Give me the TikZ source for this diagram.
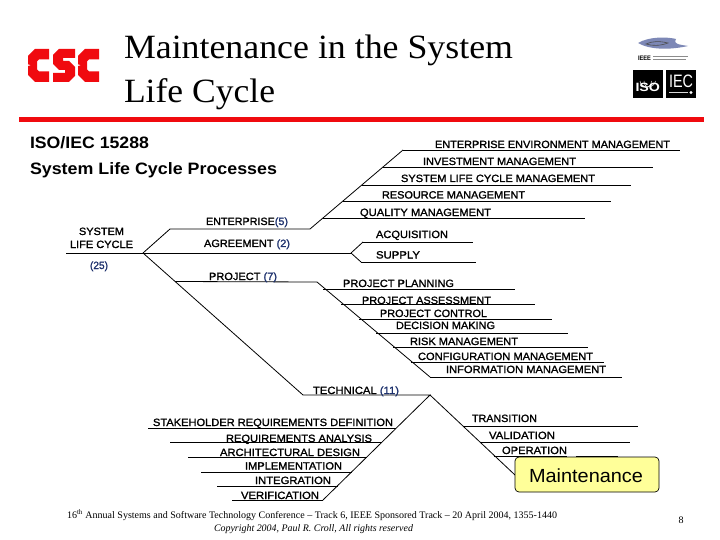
\documentclass[tikz,border=0pt]{standalone}
\usepackage{fontspec}
\usepackage{graphicx}
\setmainfont{Liberation Serif}
\setsansfont{Liberation Sans}
\newfontfamily\lblfont[FakeBold=1.4]{Liberation Sans}
\definecolor{numblue}{RGB}{30,50,110}
\definecolor{cscred}{RGB}{240,10,15}
\definecolor{noteyellow}{RGB}{255,255,153}
\definecolor{swoosh}{RGB}{70,85,150}
\tikzset{
  ln/.style={draw=black,line width=0.8pt},
  lbl/.style={inner sep=0pt,outer sep=0pt,anchor=base west,font=\lblfont\fontsize{10.5}{12}\selectfont,text=black},
  head/.style={lbl,font=\sffamily\bfseries\fontsize{16.5}{20}\selectfont},
  ttl/.style={lbl,font=\rmfamily\fontsize{34}{40}\selectfont},
  foot/.style={lbl,font=\rmfamily\fontsize{10}{12}\selectfont},
  note/.style={lbl,font=\sffamily\fontsize{19}{20}\selectfont},
  isolbl/.style={lbl,text=white,font=\sffamily\bfseries\fontsize{12}{12}\selectfont},
  ieclbl/.style={lbl,text=white,font=\sffamily\fontsize{18}{18}\selectfont},
  ieeelbl/.style={lbl,font=\sffamily\bfseries\fontsize{6.5}{7}\selectfont},
  cscshape/.style={fill=cscred,draw=none}
}
\newcommand{\fitlab}[6][lbl]{%
  \pgfmathsetlengthmacro{\fitw}{(#4-#3)*1pt}%
  \node[#1] (#2) at (#3,#5) {\resizebox{\fitw}{\height}{#6}};}
\newcommand{\num}[1]{\textcolor{numblue}{#1}}
\newcommand{\bone}[4]{%
  \coordinate (#1-a) at (#2,#4);
  \coordinate (#1-b) at (#3,#4);
  \draw[ln] (#1-a) -- (#1-b);}
\begin{document}
\begin{tikzpicture}[x=1pt,y=-1pt]
\useasboundingbox (0,0) rectangle (720,540);
\fill[white] (0,0) rectangle (720,540);

% CSC logo
\path[cscshape] (49,49) -- (35,49) -- (28,56) -- (28,64.3) -- (31,65.2) -- (28,66) -- (28,75) -- (35,82) -- (49,82) -- (49,71.5) -- (39,71.5) -- (37,69.5) -- (37,61.5) -- (39,59.5) -- (49,59.5) -- cycle;
\path[cscshape] (59,49) -- (75,49) -- (75,58) -- (63,58) -- (63,61) -- (69,61) -- (75,67) -- (75,76) -- (69,82) -- (53,82) -- (53,73) -- (65,73) -- (65,70) -- (59,70) -- (53,64) -- (53,55) -- cycle;
\path[cscshape] (99,49) -- (85,49) -- (78,56) -- (78,64.3) -- (81,65.2) -- (78,66) -- (78,75) -- (85,82) -- (99,82) -- (99,71.5) -- (89,71.5) -- (87,69.5) -- (87,61.5) -- (89,59.5) -- (99,59.5) -- cycle;

% Title
\fitlab[ttl]{t1}{124}{513}{58.5}{Maintenance in the System}
\fitlab[ttl]{t2}{124}{275}{102.5}{Life Cycle}

% Right logos
\fill[swoosh!70] (638,43) .. controls (650,36) and (668,37) .. (676,39) .. controls (672,45) and (684,45) .. (688,46) .. controls (670,50) and (650,50) .. (638,43) -- cycle;
\draw[black!70,line width=.6pt] (646,44) .. controls (652,41) and (660,41) .. (668,43) .. controls (660,46) and (652,46) .. (646,44) -- cycle;
\fitlab[ieeelbl]{ieee}{638}{651}{60.5}{IEEE}
\foreach \yy/\xe in {56.5/688,59.5/686}
  \draw[black!45,line width=1.5pt] (653,\yy) -- (\xe,\yy);
\fill[black] (633,70) rectangle (662.5,98);
\fill[black] (666,70) rectangle (696,98);
\fitlab[isolbl]{iso}{635.5}{660}{92}{ISO}
\draw[white,line width=.5pt] (640,81) arc[start angle=180,end angle=0,x radius=7.7,y radius=6];
\draw[white,line width=.5pt] (644,81) arc[start angle=180,end angle=0,x radius=3.7,y radius=6];
\fitlab[ieclbl]{iec}{669}{693}{88}{IEC}
\draw[white!85!black,line width=1.6pt] (669,92.5) -- (688,92.5);
\fill[white] (691,92.5) circle (1.6);

% Red rule
\fill[cscred] (19,117) rectangle (704,122);

% Headings
\fitlab[head]{h1}{30}{149}{149}{ISO/IEC 15288}
\fitlab[head]{h2}{30}{277}{175}{System Life Cycle Processes}

% Main skeleton
\coordinate (mainstart) at (66,253);
\coordinate (root) at (143,253);
\coordinate (agfork) at (351,253);
\coordinate (entstart) at (170,229);
\coordinate (entend) at (310,229);
\coordinate (enttop) at (403,150);
\coordinate (prjstart) at (175,281.5);
\coordinate (prjend) at (317,282);
\coordinate (prjbot) at (430,377);
\coordinate (techstart) at (303,395);
\coordinate (techfork) at (430,395);
\coordinate (techleft) at (323,500);
\coordinate (techright) at (515,475);
\draw[ln] (mainstart) -- (agfork);
\draw[ln] (root) -- (entstart) -- (entend) -- (enttop);
\draw[ln] (root) -- (techstart) -- (techfork) -- (techleft);
\draw[ln] (prjstart) -- (prjend) -- (prjbot);
\draw[ln] (techfork) -- (techright);

% Enterprise bones
\bone{eem}{403}{680}{150}
\bone{inv}{383}{653}{167}
\bone{slc}{362}{631}{185}
\bone{res}{343}{611}{201}
\bone{qua}{323}{585}{218}
% Agreement bones
\bone{acq}{363}{473}{242}
\bone{sup}{361}{476}{262}
\draw[ln] (agfork) -- (acq-a);
\draw[ln] (agfork) -- (sup-a);
% Project bones
\bone{ppl}{323}{515}{289.5}
\bone{pas}{341}{535}{304}
\bone{pco}{359}{552}{319}
\bone{dec}{376}{568}{333}
\bone{rsk}{393}{588}{347}
\bone{cfg}{411}{604}{362}
\bone{inf}{430}{622}{377}
% Technical bones
\bone{stk}{148}{396}{428}
\bone{req}{170}{382}{442}
\bone{arc}{188}{367}{457}
\bone{imp}{201}{352}{472}
\bone{itg}{217}{338}{486}
\bone{ver}{232}{323}{500}
\bone{trn}{464}{638}{426}
\bone{val}{481}{630}{442}
\coordinate (opr-a) at (494,456);
\coordinate (opr-c) at (567,456);
\coordinate (opr-d) at (576,456);
\coordinate (opr-b) at (618,456);
\draw[ln] (opr-a) -- (opr-c);
\draw[ln] (opr-d) -- (opr-b);

% Labels
\fitlab{l1}{435}{670}{148}{ENTERPRISE ENVIRONMENT MANAGEMENT}
\fitlab{l2}{423}{576}{165}{INVESTMENT MANAGEMENT}
\fitlab{l3}{401}{595}{182}{SYSTEM LIFE CYCLE MANAGEMENT}
\fitlab{l4}{382}{525}{198.5}{RESOURCE MANAGEMENT}
\fitlab{l5}{360}{491}{216}{QUALITY MANAGEMENT}
\fitlab{l6}{376}{448}{238}{ACQUISITION}
\fitlab{l7}{376}{420}{258.5}{SUPPLY}
\fitlab{l8}{206}{288}{225}{ENTERPRISE\num{(5)}}
\fitlab{l9}{204}{290}{247}{AGREEMENT \num{(2)}}
\fitlab{l10}{79}{124}{235}{SYSTEM}
\fitlab{l11}{70}{133}{248}{LIFE CYCLE}
\fitlab{l12}{90}{108}{269}{\num{(25)}}
\fitlab{l13}{209}{277}{280}{PROJECT \num{(7)}}
\fitlab{l14}{343}{454}{287}{PROJECT PLANNING}
\fitlab{l15}{362}{491}{304}{PROJECT ASSESSMENT}
\fitlab{l16}{380}{487}{317}{PROJECT CONTROL}
\fitlab{l17}{396}{495}{329}{DECISION MAKING}
\fitlab{l18}{410}{518}{345}{RISK MANAGEMENT}
\fitlab{l19}{418}{593}{360}{CONFIGURATION MANAGEMENT}
\fitlab{l20}{446}{606}{373}{INFORMATION MANAGEMENT}
\fitlab{l21}{313}{399}{394}{TECHNICAL \num{(11)}}
\fitlab{l22}{153}{393}{426}{STAKEHOLDER REQUIREMENTS DEFINITION}
\fitlab{l23}{226}{372}{442}{REQUIREMENTS ANALYSIS}
\fitlab{l24}{220}{360}{456}{ARCHITECTURAL DESIGN}
\fitlab{l25}{245}{342}{469.5}{IMPLEMENTATION}
\fitlab{l26}{255}{331}{484}{INTEGRATION}
\fitlab{l27}{241}{319}{499}{VERIFICATION}
\fitlab{l28}{472}{537}{422}{TRANSITION}
\fitlab{l29}{489}{555}{439}{VALIDATION}
\fitlab{l30}{502}{567}{454}{OPERATION}

% Callout
\node[draw=black,line width=.7pt,fill=noteyellow,rounded corners=4pt,minimum width=144pt,minimum height=35pt,inner sep=0pt] (maint) at (587,474.5) {};
\fitlab[note]{mt}{529}{643}{482}{Maintenance}

% Footer
\fitlab[foot]{f1}{67}{557}{518}{16\textsuperscript{th} Annual Systems and Software Technology Conference -- Track 6, IEEE Sponsored Track -- 20 April 2004, 1355-1440}
\fitlab[foot]{f2}{214}{413}{531}{\itshape Copyright 2004, Paul R. Croll, All rights reserved}
\node[foot] (pg) at (678.5,523) {8};
\end{tikzpicture}
\end{document}
